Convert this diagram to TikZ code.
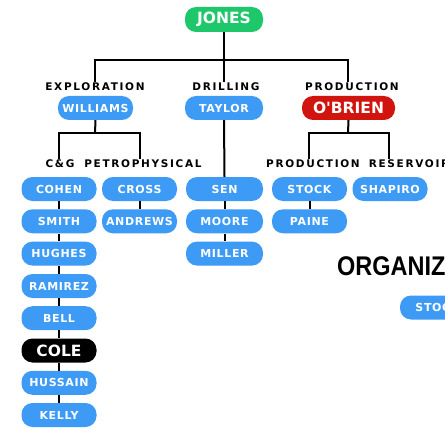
\documentclass[tikz,border=0pt]{standalone}
\usepackage{fontspec}
\setmainfont{DejaVu Sans}
\newfontfamily\pillfont[LetterSpace=6]{DejaVu Sans}
\newfontfamily\lblfont[LetterSpace=16]{DejaVu Sans}
\newfontfamily\bigfont{DejaVu Sans}
\newfontfamily\titlefont{Liberation Sans}
\definecolor{pillblue}{HTML}{3D9BF5}
\definecolor{pillgreen}{HTML}{1EC86A}
\definecolor{pillred}{HTML}{D2140F}
\tikzset{
  pill/.style={rectangle, rounded corners=11pt, fill=pillblue, text=white,
    minimum width=75pt, minimum height=24pt, inner sep=0pt,
    font=\pillfont\bfseries\fontsize{11}{13}\selectfont},
  bigpill/.style={pill, font=\bigfont\bfseries\fontsize{15.5}{17}\selectfont},
  lbl/.style={inner sep=1pt, text=black, font=\lblfont\bfseries\fontsize{10.5}{12}\selectfont},
  conn/.style={draw=black, line width=2pt}
}
\begin{document}
\begin{tikzpicture}[x=1pt,y=-1pt]
\useasboundingbox (0,0) rectangle (445,428);
\clip (0,0) rectangle (445,428);
\fill[white] (0,0) rectangle (445,428);
% top
\node[bigpill, fill=pillgreen, minimum width=78pt, minimum height=25pt] (jones) at (224,19.5) {JONES};
\node[lbl] (explbl) at (95,87) {EXPLORATION};
\node[lbl] (drilbl) at (226,87) {DRILLING};
\node[lbl] (prolbl) at (352,87) {PRODUCTION};
\node[pill] (williams) at (95.5,108) {WILLIAMS};
\node[pill, minimum width=78pt] (taylor) at (224,108) {TAYLOR};
\node[bigpill, fill=pillred, minimum width=93pt] (obrien) at (348.5,108) {O'BRIEN};
\coordinate (topbar) at (224,60);
\coordinate (barL) at (95,60);
\coordinate (barR) at (348,60);
\draw[conn] (jones.south) -- (topbar);
\draw[conn] (barL |- explbl.north) -- (barL) -- (barR) -- (barR |- prolbl.north);
\draw[conn] (topbar) -- (topbar |- drilbl.north);
% second level labels
\node[lbl] (cglbl) at (60,164) {C\&G};
\node[lbl] (petlbl) at (143,164) {PETROPHYSICAL};
\node[lbl] (prod2lbl) at (313,164) {PRODUCTION};
\node[lbl] (reslbl) at (409,164) {RESERVOIR};
\coordinate (wbar) at (95,133);
\coordinate (wbarL) at (59,133);
\coordinate (wbarR) at (140,133);
\draw[conn] (williams.south) -- (wbar);
\draw[conn] (wbarL |- cglbl.north) -- (wbarL) -- (wbarR) -- (wbarR |- petlbl.north);
\coordinate (obar) at (348,133);
\coordinate (obarL) at (309,133);
\coordinate (obarR) at (389,133);
\draw[conn] (obrien.south) -- (obar);
\draw[conn] (obarL |- prod2lbl.north) -- (obarL) -- (obarR) -- (obarR |- reslbl.north);
% C&G stack
\node[pill] (cohen) at (59,189) {COHEN};
\node[pill] (smith) at (59,221.3) {SMITH};
\node[pill] (hughes) at (59,253.6) {HUGHES};
\node[pill] (ramirez) at (59,286) {RAMIREZ};
\node[pill] (bell) at (59,318.2) {BELL};
\node[bigpill, fill=black] (cole) at (59,350.5) {COLE};
\node[pill] (hussain) at (59,382.8) {HUSSAIN};
\node[pill] (kelly) at (59,415) {KELLY};
\draw[conn] (cohen) -- (smith) (smith) -- (hughes) (hughes) -- (ramirez)
  (ramirez) -- (bell) (bell) -- (cole) (cole) -- (hussain) (hussain) -- (kelly);
% petrophysical
\node[pill] (cross) at (139.5,189) {CROSS};
\node[pill] (andrews) at (139.5,221.3) {ANDREWS};
\draw[conn] (cross) -- (andrews);
% drilling
\node[pill, minimum width=77pt] (sen) at (224.5,189) {SEN};
\node[pill, minimum width=77pt] (moore) at (224.5,221.3) {MOORE};
\node[pill, minimum width=77pt] (miller) at (224.5,253.6) {MILLER};
\draw[conn] (taylor.south) -- (sen.north);
\draw[conn] (sen) -- (moore) (moore) -- (miller);
% production
\node[pill] (stock) at (309.5,189) {STOCK};
\node[pill] (paine) at (309.5,221.3) {PAINE};
\draw[conn] (stock) -- (paine);
\node[pill] (shapiro) at (390,189) {SHAPIRO};
% partial right side
\node[anchor=base west, inner sep=0pt, xscale=0.87, font=\titlefont\bfseries\fontsize{27}{30}\selectfont] (title) at (337,275) {ORGANIZ};
\node[pill] (stock2) at (437.5,307.5) {STOCK};
\end{tikzpicture}
\end{document}
